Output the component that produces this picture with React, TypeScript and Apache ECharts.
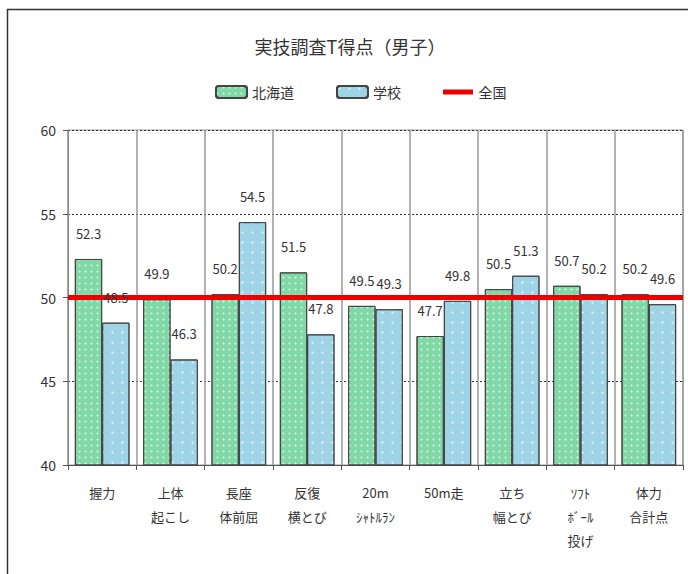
import React, { useEffect, useRef } from "react";
import * as echarts from "echarts";

const categories = [
  "握力",
  "上体\n起こし",
  "長座\n体前屈",
  "反復\n横とび",
  "20m\nｼｬﾄﾙﾗﾝ",
  "50m走",
  "立ち\n幅とび",
  "ｿﾌﾄ\nﾎﾞｰﾙ\n投げ",
  "体力\n合計点",
];
const hokkaido = [52.3, 49.9, 50.2, 51.5, 49.5, 47.7, 50.5, 50.7, 50.2];
const school = [48.5, 46.3, 54.5, 47.8, 49.3, 49.8, 51.3, 50.2, 49.6];
const national = [50, 50, 50, 50, 50, 50, 50, 50, 50];
const yTicks = { min: 40, max: 60, interval: 5 };

const FONT = "'Noto Sans CJK JP', 'Noto Sans', sans-serif";

export default function App() {
  const ref = useRef<HTMLDivElement>(null);
  useEffect(() => {
    if (!ref.current) return;
    const chart = echarts.init(ref.current, null, { renderer: "svg" });
    const labelCfg = {
      show: true,
      position: "top" as const,
      distance: 19,
      fontSize: 13,
      color: "#333",
      fontFamily: FONT,
      formatter: (p: any) => Number(p.value).toFixed(1),
    };
    const barBase = { barWidth: "40%", barGap: "0%" };
    chart.setOption({
      animation: false,
      backgroundColor: "#fff",
      textStyle: { fontFamily: FONT },
      title: {
        text: "実技調査T得点（男子）",
        left: 345,
        textAlign: "center",
        top: 32,
        textStyle: { fontSize: 18, fontWeight: "normal", color: "#333", fontFamily: FONT },
      },
      legend: {
        left: 210,
        top: 80,
        itemWidth: 31,
        itemHeight: 12,
        itemGap: 42,
        textStyle: { fontSize: 14, color: "#333", fontFamily: FONT },
        data: [
          { name: "北海道" },
          { name: "学校" },
          {
            name: "全国",
            icon: "path://M0,0 L30,0 L30,0.01 L0,0.01 Z M0,3.5 L30,3.5 L30,8.5 L0,8.5 Z M0,12 L30,12 L30,12.01 L0,12.01 Z",
            itemStyle: { color: "#ee0000", borderWidth: 0 },
          },
        ],
      },
      graphic: [
        {
          type: "rect",
          shape: { x: 7.5, y: 9.5, width: 720, height: 600 },
          style: { fill: "none", stroke: "#333", lineWidth: 1.5 },
          silent: true,
        },
      ],
      grid: {
        left: 68,
        right: 5,
        top: 130,
        bottom: 109,
        show: true,
        borderColor: "#999",
        borderWidth: 1,
      },
      xAxis: [
        {
          type: "category",
          data: categories,
          axisLine: { lineStyle: { color: "#555" } },
          axisTick: { show: true, length: 5, lineStyle: { color: "#555" } },
          splitLine: { show: true, lineStyle: { color: "#999", width: 1.5 } },
          axisLabel: {
            fontSize: 13,
            color: "#333",
            lineHeight: 24,
            margin: 15,
            interval: 0,
            fontFamily: FONT,
          },
        },
        {
          type: "category",
          data: categories,
          boundaryGap: false,
          show: false,
        },
        {
          type: "category",
          data: categories,
          show: false,
        },
      ],
      yAxis: {
        type: "value",
        min: yTicks.min,
        max: yTicks.max,
        interval: yTicks.interval,
        axisLine: { show: true, lineStyle: { color: "#888" } },
        axisTick: { show: true, length: 5, lineStyle: { color: "#555" } },
        axisLabel: { fontSize: 14, color: "#333", margin: 12, fontFamily: FONT },
        splitLine: { show: true, lineStyle: { color: "#333", type: [2, 2], width: 1 } },
      },
      series: [
        {
          name: "北海道",
          type: "bar",
          data: hokkaido,
          ...barBase,
          z: 2,
          itemStyle: {
            color: "#7fd8a6",
            borderColor: "#444",
            borderWidth: 1,
            decal: {
              symbol: "circle",
              symbolSize: 0.7,
              color: "rgba(255,255,255,0.65)",
              dashArrayX: 3,
              dashArrayY: 3,
              rotation: 0,
            },
          },
        },
        {
          name: "学校",
          type: "bar",
          data: school,
          ...barBase,
          z: 2,
          itemStyle: {
            color: "#9fd4e6",
            borderColor: "#444",
            borderWidth: 1,
            decal: {
              symbol: "circle",
              symbolSize: 0.5,
              color: "rgba(255,255,255,0.6)",
              dashArrayX: 5,
              dashArrayY: 5,
              rotation: 0,
            },
          },
        },
        {
          name: "全国",
          type: "line",
          xAxisIndex: 1,
          data: national,
          symbol: "none",
          z: 3,
          lineStyle: { color: "#ee0000", width: 5 },
          itemStyle: { color: "#ee0000" },
        },
        {
          name: "北海道ラベル",
          type: "bar",
          xAxisIndex: 2,
          data: hokkaido,
          ...barBase,
          z: 5,
          silent: true,
          itemStyle: { color: "rgba(0,0,0,0)", borderWidth: 0 },
          label: labelCfg,
        },
        {
          name: "学校ラベル",
          type: "bar",
          xAxisIndex: 2,
          data: school,
          ...barBase,
          z: 5,
          silent: true,
          itemStyle: { color: "rgba(0,0,0,0)", borderWidth: 0 },
          label: labelCfg,
        },
      ],
    });
    return () => chart.dispose();
  }, []);
  return (
    <div
      ref={ref}
      style={{ position: "absolute", left: 0, top: 0, width: 688, height: 574 }}
    />
  );
}
